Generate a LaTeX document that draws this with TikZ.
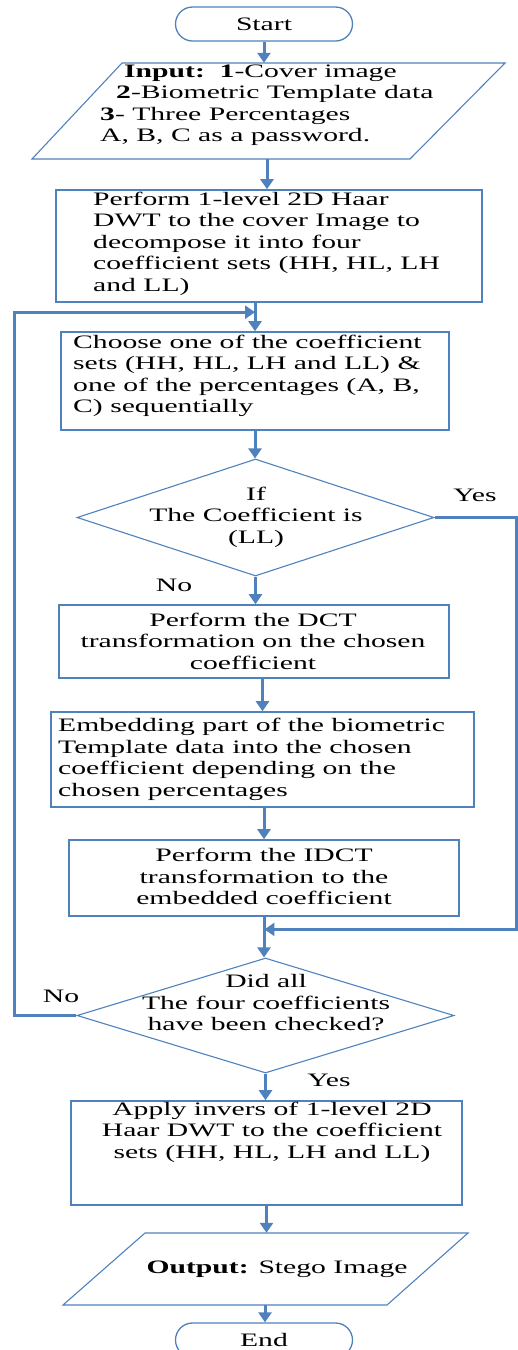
\documentclass[tikz,border=0pt]{standalone}
\usepackage{fontspec}
\setmainfont[FakeStretch=1.56]{Liberation Serif}
\usetikzlibrary{shapes.geometric,arrows.meta,calc}
\definecolor{fb}{RGB}{79,129,189}
\begin{document}
\begin{tikzpicture}[x=1pt,y=-1pt,
  font=\fontsize{19}{21.5}\selectfont,
  box/.style={draw=fb, line width=1.6pt, inner sep=0pt},
  dec/.style={diamond, draw=fb, line width=1.1pt, inner sep=0pt},
  term/.style={draw=fb, line width=1.3pt, rounded corners=17pt, inner sep=0pt, minimum width=177pt, minimum height=34pt},
  io/.style={draw=fb, line width=1.1pt, line join=miter},
  ghost/.style={inner sep=0pt},
  txt/.style={inner sep=0pt, align=left, anchor=west},
  ctxt/.style={inner sep=0pt, align=center},
  arr/.style={draw=fb, line width=3pt, -{Triangle[length=10pt,width=13pt]}},
  lbl/.style={inner sep=0pt}
]
\useasboundingbox (0,0) rectangle (518,1350);
\clip (0,0) rectangle (518,1350);

% Start
\node[term] (start) at (264,24) {Start};

% Input
\draw[io] (122,63) -- (505,63) -- (410,159) -- (32,159) -- cycle;
\node[ghost, minimum width=300pt, minimum height=96pt] (inp) at (267,111) {};
\node[txt] (tinp) at (100,105) {\hspace*{24pt}\textbf{Input:}\ \ \textbf{1}-Cover image\\\hspace*{16pt}\textbf{2}-Biometric Template data\\\textbf{3}- Three Percentages\\A, B, C as a password.};

% DWT
\node[box, minimum width=426pt, minimum height=112pt] (dwt) at (269,246) {};
\node[txt] (tdwt) at (93,243.6) {Perform 1-level 2D Haar\\DWT to the cover Image to\\decompose it into four\\coefficient sets (HH, HL, LH\\and LL)};

% Choose
\node[box, minimum width=388pt, minimum height=98pt] (choose) at (255,381) {};
\node[txt] (tchoose) at (73,376) {Choose one of the coefficient\\sets (HH, HL, LH and LL) \&\\one of the percentages (A, B,\\C) sequentially};

% Decision 1
\node[dec, minimum width=357pt, minimum height=117pt] (dec1) at (255.5,517.5) {};
\node[ctxt] (tdec1) at (256,517) {If\\The Coefficient is\\(LL)};

% DCT
\node[box, minimum width=390pt, minimum height=73pt] (dct) at (254,641.5) {};
\node[ctxt] (tdct) at (253,641) {Perform the DCT\\transformation on the chosen\\coefficient};

% Embedding
\node[box, minimum width=423pt, minimum height=95pt] (emb) at (262.5,759.5) {};
\node[txt] (temb) at (58,759.5) {Embedding part of the biometric\\Template data into the chosen\\coefficient depending on the\\chosen percentages};

% IDCT
\node[box, minimum width=390pt, minimum height=76pt] (idct) at (264,878) {};
\node[ctxt] (tidct) at (264,876.7) {Perform the IDCT\\transformation to the\\embedded coefficient};

% Decision 2
\node[dec, minimum width=377pt, minimum height=115pt] (dec2) at (265.5,1015.5) {};
\node[ctxt] (tdec2) at (266,1003) {Did all\\The four coefficients\\have been checked?};

% Apply
\node[box, minimum width=391pt, minimum height=104pt] (apply) at (266.5,1153) {};
\node[ctxt] (tapply) at (272,1132) {Apply invers of 1-level 2D\\Haar DWT to the coefficient\\sets (HH, HL, LH and LL)};

% Output
\draw[io] (145,1233) -- (468,1233) -- (387,1305) -- (63,1305) -- cycle;
\node[ghost, minimum width=250pt, minimum height=72pt] (outp) at (265,1269) {};
\node[ctxt] (toutp) at (277,1269) {\textbf{Output:} Stego Image};

% End
\node[term] (end) at (264,1340) {End};

% helper coordinates
\coordinate (rx) at (516,0);
\coordinate (lx) at (14,0);
\coordinate (j) at ($(idct.south)!0.31!(dec2.north)$);
\coordinate (k) at ($(choose.north)+(0,-19)$);

% connectors
\draw[arr] (start.south) -- (start.south |- inp.north);
\draw[arr] (inp.south) -- (inp.south |- dwt.north);
\draw[arr] (choose.north |- dwt.south) -- (choose.north);
\draw[arr] (choose.south) -- (choose.south |- dec1.north);
\draw[arr] (dec1.south) -- (dec1.south |- dct.north);
\draw[arr] (emb.north |- dct.south) -- (emb.north);
\draw[arr] (idct.north |- emb.south) -- (idct.north);
\draw[arr] (idct.south) -- (idct.south |- dec2.north);
\draw[arr] (dec1.east) -- (dec1.east -| rx) -- (rx |- j) -- (j);
\draw[arr] (dec2.west) -- (dec2.west -| lx) -- (lx |- k) -- (k);
\draw[arr] (dec2.south) -- (dec2.south |- apply.north);
\draw[arr] (apply.south) -- (apply.south |- outp.north);
\draw[arr] (outp.south) -- (outp.south |- end.north);

% labels
\node[lbl] (yes1) at (475,495) {Yes};
\node[lbl] (no1) at (174,585) {No};
\node[lbl] (no2) at (61,996) {No};
\node[lbl] (yes2) at (329,1080) {Yes};
\end{tikzpicture}
\end{document}
